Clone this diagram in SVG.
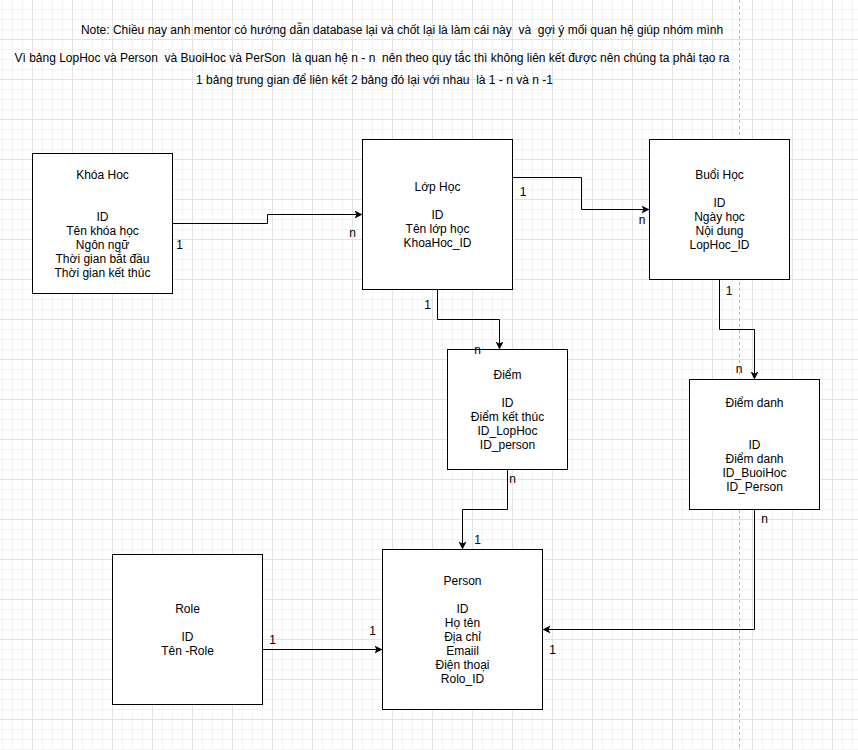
<svg xmlns="http://www.w3.org/2000/svg" width="858" height="750" viewBox="0 0 858 750">
  <defs>
    <pattern id="grid" patternUnits="userSpaceOnUse" x="2" y="9" width="40" height="40">
      <path d="M0.5,0V40M10.5,0V40M20.5,0V40M0,0.5H40M0,10.5H40M0,20.5H40" stroke="#f3f3f3" stroke-width="1" fill="none"/>
      <path d="M30.5,0V40M0,30.5H40" stroke="#e3e3e3" stroke-width="1" fill="none"/>
    </pattern>
    <marker id="arrow" markerUnits="userSpaceOnUse" markerWidth="9" markerHeight="9" refX="8" refY="4" orient="auto">
      <path d="M0,0 L8,4 L0,8 L2,4 Z" fill="#000"/>
    </marker>
    <style>
      .box { fill: #fff; stroke: #000; stroke-width: 1; }
      .t { font-family: "Liberation Sans", Arial, sans-serif; font-size: 12px; fill: #000; text-anchor: middle; }
      .lbl { font-family: "Liberation Sans", Arial, sans-serif; font-size: 12px; fill: #000; text-anchor: middle; }
      .note { font-family: "Liberation Sans", Arial, sans-serif; font-size: 12px; fill: #000; text-anchor: middle; white-space: pre; }
      .edge { fill: none; stroke: #000; stroke-width: 1; marker-end: url(#arrow); }
    </style>
  </defs>

  <rect x="0" y="0" width="858" height="750" fill="#fff"/>
  <rect x="0" y="0" width="858" height="750" fill="url(#grid)"/>
  <line x1="739.5" y1="0" x2="739.5" y2="750" stroke="#b8b8b8" stroke-width="1" stroke-dasharray="3,3"/>

  <g id="notes">
    <text class="note" x="402" y="34" xml:space="preserve">Note: Chiều nay anh mentor có hướng dẫn database lại và chốt lại là làm cái này  và  gợi ý mối quan hệ giúp nhóm mình</text>
    <text class="note" x="372" y="62" xml:space="preserve">Vì bảng LopHoc và Person  và BuoiHoc và PerSon  là quan hệ n - n  nên theo quy tắc thì không liên kết được nên chúng ta phải tạo ra</text>
    <text class="note" x="374.5" y="84" xml:space="preserve">1 bảng trung gian để liên kết 2 bảng đó lại với nhau  là 1 - n và n -1</text>
  </g>

  <g id="connectors">
    <path class="edge" d="M172.5,223.5 H267.5 V214.5 H362.5"/>
    <path class="edge" d="M512.5,177.5 H581.5 V209.5 H649.5"/>
    <path class="edge" d="M437.5,289.5 V319.5 H499.5 V349.5"/>
    <path class="edge" d="M719.5,279.5 V329.5 H754.5 V379.5"/>
    <path class="edge" d="M507.5,469.5 V509.5 H462.5 V549.5"/>
    <path class="edge" d="M754.5,509.5 V629.5 H542.5"/>
    <path class="edge" d="M262.5,649.5 H382.5"/>
  </g>

  <g id="khoahoc">
    <rect class="box" x="32.5" y="153.5" width="140" height="140"/>
    <text class="t" x="102.5" y="179">Khóa Hoc</text>
    <text class="t" x="102.5" y="221">ID</text>
    <text class="t" x="102.5" y="235">Tên khóa học</text>
    <text class="t" x="102.5" y="249">Ngôn ngữ</text>
    <text class="t" x="102.5" y="263">Thời gian bắt đầu</text>
    <text class="t" x="102.5" y="277">Thời gian kết thúc</text>
  </g>

  <g id="lophoc">
    <rect class="box" x="362.5" y="139.5" width="150" height="150"/>
    <text class="t" x="437.5" y="191">Lớp Học</text>
    <text class="t" x="437.5" y="219">ID</text>
    <text class="t" x="437.5" y="233">Tên lớp học</text>
    <text class="t" x="437.5" y="247">KhoaHoc_ID</text>
  </g>

  <g id="buoihoc">
    <rect class="box" x="649.5" y="139.5" width="140" height="140"/>
    <text class="t" x="719.5" y="178.5">Buổi Học</text>
    <text class="t" x="719.5" y="206.5">ID</text>
    <text class="t" x="719.5" y="220.5">Ngày học</text>
    <text class="t" x="719.5" y="234.5">Nội dung</text>
    <text class="t" x="719.5" y="248.5">LopHoc_ID</text>
  </g>

  <g id="diem">
    <rect class="box" x="447.5" y="349.5" width="120" height="120"/>
    <text class="t" x="507.5" y="379">Điểm</text>
    <text class="t" x="507.5" y="407">ID</text>
    <text class="t" x="507.5" y="421">Điểm kết thúc</text>
    <text class="t" x="507.5" y="435">ID_LopHoc</text>
    <text class="t" x="507.5" y="449">ID_person</text>
  </g>

  <g id="diemdanh">
    <rect class="box" x="689.5" y="379.5" width="130" height="130"/>
    <text class="t" x="754.5" y="407">Điểm danh</text>
    <text class="t" x="754.5" y="449">ID</text>
    <text class="t" x="754.5" y="463">Điểm danh</text>
    <text class="t" x="754.5" y="477">ID_BuoiHoc</text>
    <text class="t" x="754.5" y="491">ID_Person</text>
  </g>

  <g id="role">
    <rect class="box" x="112.5" y="554.5" width="150" height="150"/>
    <text class="t" x="187.5" y="613">Role</text>
    <text class="t" x="187.5" y="641">ID</text>
    <text class="t" x="187.5" y="655">Tên -Role</text>
  </g>

  <g id="person">
    <rect class="box" x="382.5" y="549.5" width="160" height="160"/>
    <text class="t" x="462.5" y="585">Person</text>
    <text class="t" x="462.5" y="613">ID</text>
    <text class="t" x="462.5" y="627">Họ tên</text>
    <text class="t" x="462.5" y="641">Địa chỉ</text>
    <text class="t" x="462.5" y="655">Emaiil</text>
    <text class="t" x="462.5" y="669">Điện thoại</text>
    <text class="t" x="462.5" y="683">Rolo_ID</text>
  </g>

  <g id="connector-labels">
    <text class="lbl" x="179.5" y="248.5">1</text>
    <text class="lbl" x="352.5" y="237">n</text>
    <text class="lbl" x="523" y="195.5">1</text>
    <text class="lbl" x="642" y="224">n</text>
    <text class="lbl" x="427.5" y="308.5">1</text>
    <text class="lbl" x="477.5" y="354">n</text>
    <text class="lbl" x="729" y="294.5">1</text>
    <text class="lbl" x="739" y="373">n</text>
    <text class="lbl" x="512.5" y="483">n</text>
    <text class="lbl" x="477.5" y="543.5">1</text>
    <text class="lbl" x="764.5" y="523">n</text>
    <text class="lbl" x="552.5" y="653.5">1</text>
    <text class="lbl" x="272.5" y="643.5">1</text>
    <text class="lbl" x="372.5" y="634.5">1</text>
  </g>
</svg>
